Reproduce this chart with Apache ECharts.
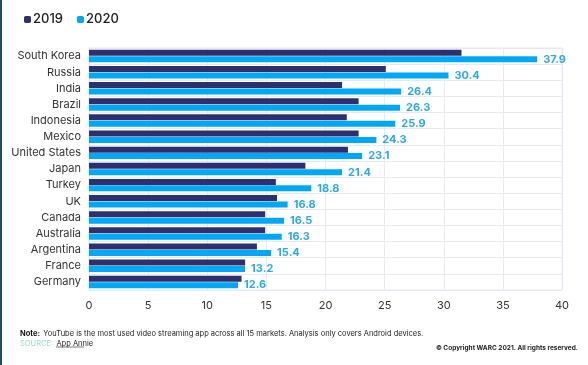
<!DOCTYPE html>
<html><head><meta charset="utf-8">
<script src="https://cdn.jsdelivr.net/npm/echarts@6/dist/echarts.min.js"></script>
<style>
html,body{margin:0;padding:0;background:#fff;}
#c{width:586px;height:365px;border-left:2px solid #1f4e63;}
</style></head>
<body><div id="c"></div>
<script>
const categories = ["South Korea","Russia","India","Brazil","Indonesia","Mexico","United States","Japan","Turkey","UK","Canada","Australia","Argentina","France","Germany"];
const values2019 = [31.5,25.1,21.4,22.8,21.8,22.8,21.9,18.3,15.8,15.9,14.9,14.9,14.2,13.2,12.9];
const values2020 = [37.9,30.4,26.4,26.3,25.9,24.3,23.1,21.4,18.8,16.8,16.5,16.3,15.4,13.2,12.6];
const xTicks = [0,5,10,15,20,25,30,35,40];

const chart = echarts.init(document.getElementById('c'));
const font = 'Inter, "Noto Sans", sans-serif';
chart.setOption({
  animation:false,
  textStyle:{fontFamily:font},
  legend:{left:17,top:8,itemWidth:7,itemHeight:7,itemGap:14,
    textStyle:{fontSize:13,fontWeight:500,color:'#222',fontFamily:font,padding:[0,0,0,-3]},
    data:['2019','2020']},
  grid:{left:87,right:26,top:48,bottom:75},
  xAxis:{type:'value',min:xTicks[0],max:xTicks[xTicks.length-1],interval:5,
    axisLine:{show:false},axisTick:{show:false},
    axisLabel:{color:'#333',fontSize:11,margin:10,fontFamily:font},
    splitLine:{lineStyle:{color:'#e8e8f6',width:1}}},
  yAxis:{type:'category',inverse:true,data:categories,
    axisLine:{show:true,lineStyle:{color:'#e8e8f6'}},axisTick:{show:false},
    axisLabel:{color:'#333',fontSize:11,margin:8,fontFamily:font},
    splitLine:{show:true,lineStyle:{color:'#e8e8f6',width:1}}},
  series:[
    {name:'2019',type:'bar',data:values2019,barWidth:6,barGap:'8%',
     itemStyle:{color:'#2e306e'}},
    {name:'2020',type:'bar',data:values2020,barWidth:6,
     itemStyle:{color:'#00a8f7'},
     label:{show:true,position:'right',distance:6,color:'#2aa9ef',fontWeight:'bold',fontSize:11,fontFamily:font}}
  ],
  graphic:[
    {type:'rect',shape:{x:87,y:48,width:473,height:242},style:{fill:'none',stroke:'#e8e8f6',lineWidth:1},z:-1},
    {type:'text',left:18,top:328,style:{rich:{b:{fontWeight:'bold',fontSize:7.5,fill:'#111',fontFamily:font},n:{fontSize:7.5,fill:'#222',fontFamily:font}},
      text:'{b|Note:} {n|YouTube is the most used video streaming app across all 15 markets. Analysis only covers Android devices.}'}},
    {type:'text',left:18,top:338,style:{rich:{s:{fontSize:7.5,fill:'#9fdcc4',fontFamily:font},a:{fontSize:7.5,fill:'#222',fontFamily:font}},
      text:'{s|SOURCE:} {a|App Annie}'}},
    {type:'line',shape:{x1:54,y1:347,x2:82,y2:347},style:{stroke:'#222',lineWidth:0.6}},
    {type:'text',right:10,top:345,style:{text:'© Copyright WARC 2021. All rights reserved.',fontSize:6.5,fontWeight:'bold',fill:'#222',fontFamily:font}}
  ]
});
</script></body></html>
